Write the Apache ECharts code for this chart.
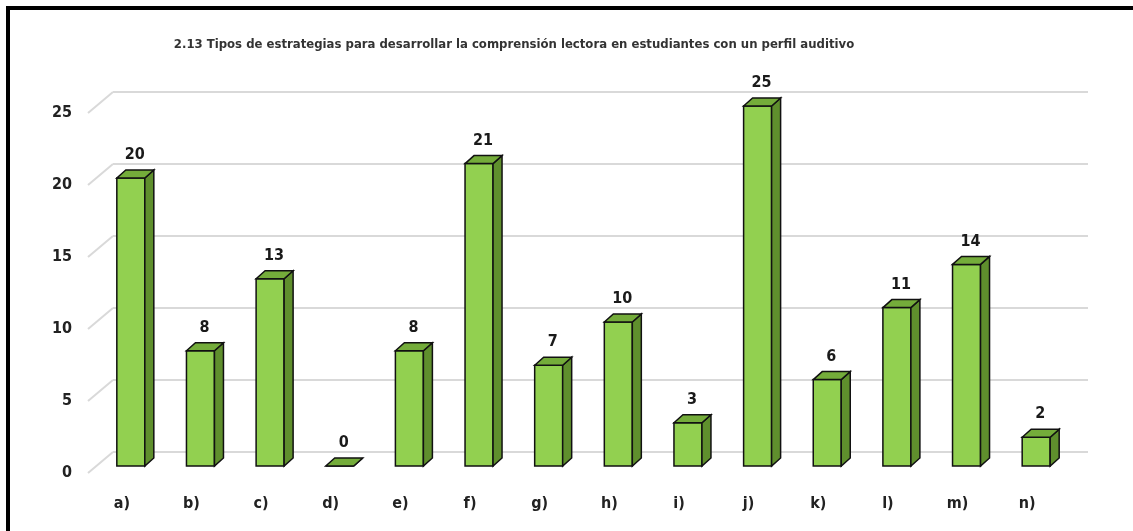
<!doctype html>
<html>
<head>
<meta charset="utf-8">
<style>
html, body { margin: 0; padding: 0; background: #fff; }
#chart-panel { position: absolute; left: 0; top: 0; width: 1133px; height: 531px; }
</style>
<script src="https://cdn.jsdelivr.net/npm/echarts@6/dist/echarts.min.js"></script>
</head>
<body>
<div id="chart-panel"></div>
<script type="text/javascript">
var categorias = ['a)', 'b)', 'c)', 'd)', 'e)', 'f)', 'g)', 'h)', 'i)', 'j)', 'k)', 'l)', 'm)', 'n)'];
var valores = [20, 8, 13, 0, 8, 21, 7, 10, 3, 25, 6, 11, 14, 2];
var ticks = [0, 5, 10, 15, 20, 25];
var titulo = '2.13 Tipos de estrategias para desarrollar la comprensión lectora en estudiantes con un perfil auditivo';

var fuente = '"Liberation Sans Narrow", "DejaVu Sans Condensed", sans-serif';
var myChart = echarts.init(document.getElementById('chart-panel'));

// barras 3d: cara frontal, lateral y superior
function barra3d(params, api) {
    var idx = api.value(0);
    var v = api.value(1);
    var top = api.coord([idx, v]);
    var base = api.coord([idx, 0]);
    var x1 = top[0] - 5, x2 = top[0] + 23;
    var yt = top[1], yb = base[1];
    var dx = 9, dy = -8;
    var borde = { stroke: '#111', lineWidth: 1.5 };
    return {
        type: 'group',
        children: [
            {
                type: 'rect',
                shape: { x: x1, y: yt, width: x2 - x1, height: yb - yt },
                style: Object.assign({ fill: '#92d050' }, borde)
            },
            {
                type: 'polygon',
                shape: { points: [[x2, yt], [x2 + dx, yt + dy], [x2 + dx, yb + dy], [x2, yb]] },
                style: Object.assign({ fill: '#5f8f2d' }, borde)
            },
            {
                type: 'polygon',
                shape: { points: [[x1, yt], [x1 + dx, yt + dy], [x2 + dx, yt + dy], [x2, yt]] },
                style: Object.assign({ fill: '#74ac3a' }, borde)
            },
            {
                type: 'text',
                style: {
                    text: String(v),
                    x: top[0] + 13, y: yt - 23,
                    align: 'center', verticalAlign: 'middle',
                    font: 'bold 16px ' + fuente,
                    fill: '#1a1a1a'
                }
            }
        ]
    };
}

// lineas de la pared del fondo
function rejilla(params, api) {
    var y = api.coord([0, api.value(1)])[1];
    var gx = params.coordSys.x, gw = params.coordSys.width;
    var estilo = { stroke: '#d9d9d9', lineWidth: 2 };
    return {
        type: 'group',
        children: [
            { type: 'line', shape: { x1: gx + 1, y1: y + 7, x2: gx + 26, y2: y - 14 }, style: estilo },
            { type: 'line', shape: { x1: gx + 26, y1: y - 14, x2: gx + gw + 26, y2: y - 14 }, style: estilo }
        ]
    };
}

var option = {
    animation: false,
    grid: { left: 87, right: 71, top: 106, bottom: 65 },
    xAxis: {
        type: 'category',
        data: categorias,
        axisLine: { show: false },
        axisTick: { show: false },
        axisLabel: { margin: 30, color: '#222', fontSize: 16, fontWeight: 'bold', fontFamily: fuente }
    },
    yAxis: {
        type: 'value',
        min: 0, max: 25, interval: 5,
        axisLine: { show: false },
        axisTick: { show: false },
        splitLine: { show: false },
        axisLabel: {
            margin: 15, color: '#222', fontSize: 16, fontWeight: 'bold', fontFamily: fuente,
            verticalAlign: 'top', lineHeight: 14
        }
    },
    graphic: [
        { type: 'rect', shape: { x: 6, y: 6, width: 1140, height: 4 }, style: { fill: '#000' } },
        { type: 'rect', shape: { x: 6, y: 6, width: 4, height: 540 }, style: { fill: '#000' } },
        {
            type: 'text', x: 514, y: 45,
            style: { text: titulo, font: 'bold 13px ' + fuente, fill: '#333', align: 'center', verticalAlign: 'middle' }
        }
    ],
    series: [
        {
            type: 'custom',
            renderItem: rejilla,
            data: ticks.map(function (t) { return [0, t]; }),
            z: 1,
            silent: true
        },
        {
            type: 'custom',
            renderItem: barra3d,
            data: valores.map(function (v, i) { return [i, v]; }),
            z: 2
        }
    ]
};
myChart.setOption(option);
</script>
</body>
</html>
